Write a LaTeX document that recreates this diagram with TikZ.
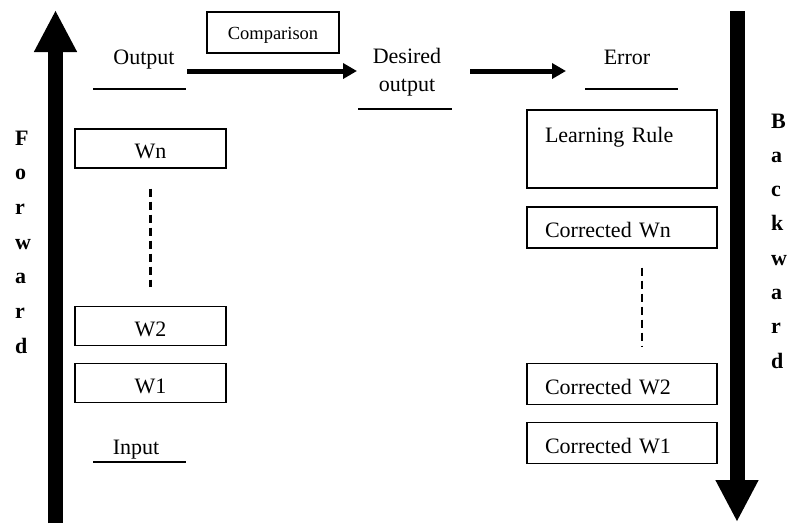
\documentclass[tikz,border=0pt]{standalone}
\usepackage{fontspec}
\setmainfont{Liberation Serif}
\usetikzlibrary{arrows.meta}
\tikzset{
  lbl/.style={font=\fontsize{22}{26}\selectfont, inner sep=0pt, anchor=base},
  dirletter/.style={font=\fontsize{22}{26}\selectfont\bfseries, inner sep=0pt, anchor=base west},
  wbox/.style={draw, line width=1.3pt, minimum width=151pt, minimum height=39pt,
    inner sep=0pt, text height=20pt, text depth=0pt, font=\fontsize{22}{26}\selectfont},
  cbox/.style={draw, line width=1.3pt, minimum width=190pt, minimum height=41pt,
    inner ysep=0pt, inner xsep=18pt, text width=154pt, align=left,
    text height=20pt, text depth=0pt, font=\fontsize{22}{26}\selectfont},
  uline/.style={line width=1.3pt},
  bigarrow/.style={line width=15pt, line cap=butt, -{Triangle[width=40pt,length=42pt]}},
  flowarrow/.style={line width=5pt, line cap=butt, -{Triangle[width=15pt,length=14pt]}},
  dashlink/.style={line width=3pt, dash pattern=on 8pt off 5pt},
}
\begin{document}
\begin{tikzpicture}[x=1pt,y=-1pt]
\useasboundingbox (0,0) rectangle (790,523);

% forward and backward passes
\coordinate (fwdS) at (55.5,523);
\coordinate (fwdE) at (55.5,10);
\coordinate (bwdS) at (737,11);
\coordinate (bwdE) at (737,522);
\draw[bigarrow] (fwdS) -- (fwdE);
\draw[bigarrow] (bwdS) -- (bwdE);

\foreach \ch [count=\i from 0] in {F,o,r,w,a,r,d}
  \node[dirletter] (f\i) at (15,145+34.7*\i) {\ch};
\foreach \ch [count=\i from 0] in {B,a,c,k,w,a,r,d}
  \node[dirletter] (b\i) at (771,128+34.3*\i) {\ch};

% top row
\node[draw, line width=1.3pt, minimum width=132pt, minimum height=41pt, inner sep=0pt,
  text height=14pt, text depth=0pt, font=\fontsize{18.5}{22}\selectfont]
  (cmp) at (273,32.5) {Comparison};

\node[lbl] (out) at (144,64) {Output};
\draw[uline] (93,89) -- (186,89);

\node[lbl, align=center, anchor=north] (des) at (407,48) {Desired\\[2pt]output};
\draw[uline] (358,109) -- (452,109);

\node[lbl] (err) at (627,64) {Error};
\draw[uline] (585,89) -- (678,89);

\coordinate (a1s) at (187,71);
\coordinate (a1e) at (357,71);
\coordinate (a2s) at (470,71);
\coordinate (a2e) at (566,71);
\draw[flowarrow] (a1s) -- (a1e);
\draw[flowarrow] (a2s) -- (a2e);

% forward weights
\node[wbox] (wn) at (150.5,148.5) {Wn};
\node[wbox] (w2) at (150.5,326) {W2};
\node[wbox] (w1) at (150.5,383) {W1};
\draw[dashlink, shorten <=20pt, shorten >=19pt] (wn.south) -- (w2.north);

\node[lbl] (inp) at (136,454) {Input};
\draw[uline] (93,462) -- (186,462);

% backward corrections
\node[cbox, minimum height=78pt, text depth=34pt] (lr) at (622,149) {Learning Rule};
\node[cbox] (cwn) at (622,227.5) {Corrected Wn};
\node[cbox] (cw2) at (622,384) {Corrected W2};
\node[cbox] (cw1) at (622,443) {Corrected W1};
\draw[dashlink, line width=2.2pt, shorten <=19pt, shorten >=16pt]
  ([xshift=20pt]cwn.south) -- ([xshift=20pt]cw2.north);
\end{tikzpicture}
\end{document}
